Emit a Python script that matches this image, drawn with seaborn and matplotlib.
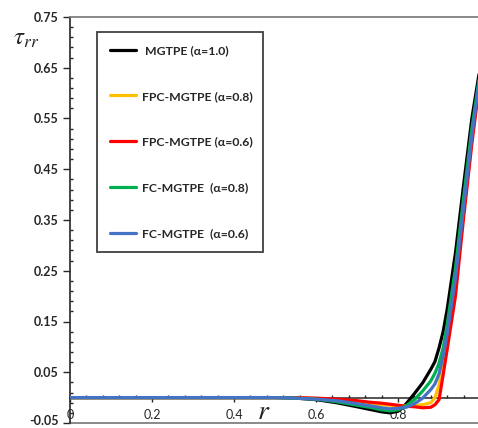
import numpy as np
import pandas as pd
import matplotlib
matplotlib.use("Agg")
import matplotlib.pyplot as plt
import matplotlib.transforms as mtransforms
from matplotlib.ticker import FixedLocator, FixedFormatter, MultipleLocator
import seaborn as sns

# Radial positions and stress profiles for each model
r_vals = [0.0, 0.1, 0.2, 0.3, 0.4, 0.5, 0.55, 0.6, 0.65, 0.7, 0.73, 0.76, 0.78,
          0.8, 0.82, 0.84, 0.86, 0.88, 0.89, 0.9, 0.91, 0.92, 0.94, 0.96, 0.98, 1.0]

mgtpe_a10 = [0, 0, 0, 0, 0, 0, -0.001, -0.004, -0.010, -0.018, -0.023, -0.028, -0.030,
             -0.027, -0.012, 0.008, 0.029, 0.056, 0.071, 0.098, 0.130, 0.175, 0.285,
             0.420, 0.550, 0.650]
fpc_a08 = [0, 0, 0, 0, 0, 0, 0.0, -0.002, -0.005, -0.009, -0.012, -0.014, -0.015,
           -0.016, -0.016, -0.015, -0.014, -0.010, 0.000, 0.025, 0.068, 0.112, 0.225,
           0.370, 0.510, 0.632]
fpc_a06 = [0, 0, 0, 0, 0, 0, 0.0, -0.001, -0.003, -0.006, -0.009, -0.011, -0.013,
           -0.015, -0.017, -0.018, -0.020, -0.019, -0.014, -0.004, 0.045, 0.096, 0.200,
           0.355, 0.500, 0.628]
fc_a08 = [0, 0, 0, 0, 0, 0, -0.001, -0.003, -0.008, -0.015, -0.019, -0.024, -0.026,
          -0.024, -0.016, -0.004, 0.013, 0.033, 0.048, 0.068, 0.098, 0.145, 0.255,
          0.395, 0.530, 0.640]
fc_a06 = [0, 0, 0, 0, 0, 0, -0.001, -0.003, -0.006, -0.012, -0.016, -0.020, -0.022,
          -0.021, -0.019, -0.012, -0.001, 0.016, 0.027, 0.047, 0.082, 0.126, 0.235,
          0.375, 0.515, 0.635]

series_names = [" MGTPE (α=1.0)", "FPC-MGTPE (α=0.8)", "FPC-MGTPE (α=0.6)",
                "FC-MGTPE  (α=0.8)", "FC-MGTPE  (α=0.6)"]
series_values = [mgtpe_a10, fpc_a08, fpc_a06, fc_a08, fc_a06]
series_colors = ["#000000", "#FFC000", "#FF0000", "#00B050", "#4472C4"]

x_tick_vals = [0.0, 0.2, 0.4, 0.6, 0.8]
x_tick_labels = ["0", "0.2", "0.4", "0.6", "0.8"]
y_tick_vals = [-0.05, 0.05, 0.15, 0.25, 0.35, 0.45, 0.55, 0.65, 0.75]
y_tick_labels = ["-0.05", "0.05", "0.15", "0.25", "0.35", "0.45", "0.55", "0.65", "0.75"]

df = pd.concat(
    [pd.DataFrame({"r": r_vals, "tau": vals, "model": name})
     for name, vals in zip(series_names, series_values)],
    ignore_index=True,
)

sns.set_theme(style="white")
plt.rcParams["font.family"] = ["Lato", "DejaVu Sans"]
plt.rcParams["mathtext.fontset"] = "stix"

fig = plt.figure(figsize=(4.78, 4.28), dpi=100)
ax = fig.add_axes([70 / 478, 5 / 428, 408 / 478, 406 / 428])

sns.lineplot(data=df, x="r", y="tau", hue="model", hue_order=series_names,
             palette=series_colors, linewidth=2.3, ax=ax, sort=False,
             estimator=None, zorder=3)

ax.set_xlim(0.0, 0.995)
ax.set_ylim(-0.05, 0.75)
ax.set_xlabel("")
ax.set_ylabel("")

tick_color = "#262626"
ax.xaxis.set_major_locator(FixedLocator(x_tick_vals))
ax.xaxis.set_major_formatter(FixedFormatter(x_tick_labels))
ax.xaxis.set_minor_locator(MultipleLocator(0.04))
ax.yaxis.set_major_locator(FixedLocator(y_tick_vals))
ax.yaxis.set_major_formatter(FixedFormatter(y_tick_labels))
ax.yaxis.set_minor_locator(FixedLocator(np.round(np.arange(-0.05, 0.751, 0.02), 3)))

ax.tick_params(axis="x", which="major", direction="out", length=3, width=1.0,
               color=tick_color, pad=5, labelsize=9, labelcolor=tick_color, bottom=True)
ax.tick_params(axis="x", which="minor", direction="in", length=2.5, width=1.0,
               color=tick_color, bottom=True)
ax.tick_params(axis="y", which="major", direction="out", length=5, width=1.0,
               color=tick_color, pad=3, labelsize=9, labelcolor=tick_color, left=True)
ax.tick_params(axis="y", which="minor", direction="in", length=2.5, width=1.0,
               color=tick_color, left=True)
for lbl in ax.get_xticklabels() + ax.get_yticklabels():
    lbl.set_fontweight("bold")

# Keep the lowest y label inside the canvas
fig.canvas.draw()
low_lbl = ax.get_yticklabels()[0]
low_lbl.set_transform(low_lbl.get_transform()
                      + mtransforms.ScaledTranslation(0, 2 / 72, fig.dpi_scale_trans))

# Horizontal axis crosses at zero; plot frame in grey
ax.spines["bottom"].set_position(("data", 0.0))
ax.spines["bottom"].set_color(tick_color)
ax.spines["bottom"].set_linewidth(1.1)
ax.spines["left"].set_color(tick_color)
ax.spines["left"].set_linewidth(1.2)
ax.spines["top"].set_color("#808080")
ax.spines["top"].set_linewidth(1.3)
ax.spines["right"].set_visible(False)
ax.plot([0, 1], [0, 0], transform=ax.transAxes, color="#808080", lw=1.3,
        clip_on=False, zorder=1)

# Axis titles
ax.text(0.473, -0.027, r"$r$", fontsize=20, ha="center", va="center", zorder=4)
fig.text(26 / 478, 1 - 39 / 428, r"$\tau_{rr}$", fontsize=18, ha="center", va="center")

handles, labels = ax.get_legend_handles_labels()
leg = ax.legend(handles, labels, loc="upper left",
                bbox_to_anchor=(0.066, 0.428, 0.407, 0.535), mode="expand",
                frameon=True, fancybox=False, framealpha=1.0, edgecolor="#404040",
                prop={"weight": "bold", "size": 8.8}, labelspacing=2.85,
                borderpad=1.05, handlelength=2.15, handletextpad=0.45,
                borderaxespad=0.0)
leg.get_frame().set_linewidth(1.3)
for line in leg.get_lines():
    line.set_linewidth(2.3)
for txt in leg.get_texts():
    txt.set_color(tick_color)

fig.savefig("out.png", dpi=100)
